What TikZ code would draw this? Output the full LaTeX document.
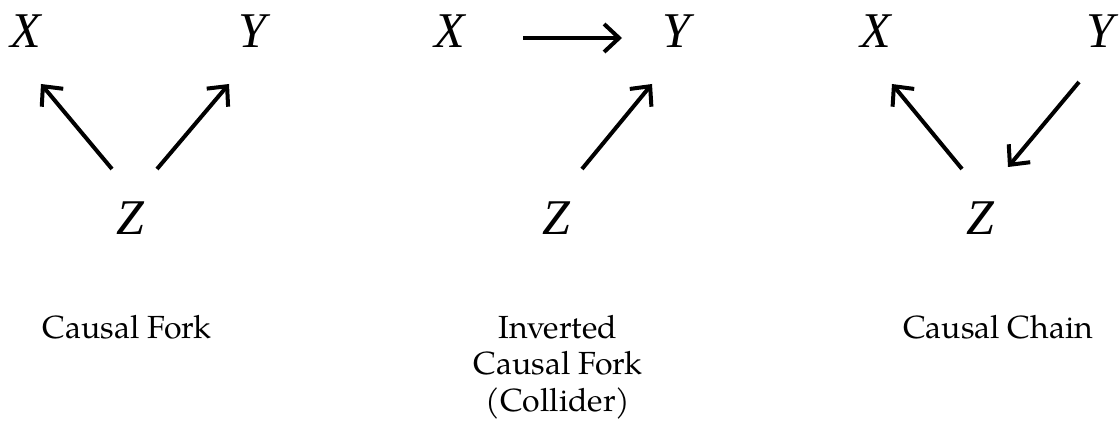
\documentclass[tikz,border=0pt]{standalone}
\usepackage{fontspec}
\setmainfont{TeX Gyre Pagella}
\newfontfamily\varfont{Liberation Serif}
\usetikzlibrary{arrows.meta}
\begin{document}
\begin{tikzpicture}[x=1pt,y=-1pt,
  var/.style={font=\fontsize{50}{60}\selectfont\varfont\itshape, anchor=base, inner sep=0pt},
  lbl/.style={font=\fontsize{32}{36.5}\selectfont, align=center, anchor=base, inner sep=0pt},
  arr/.style={line width=4pt, -{Straight Barb[length=15pt,width=28pt]}}]
\useasboundingbox (0,0) rectangle (1119,430);
% Causal fork
\node[var] (X1) at (26,48) {X};
\node[var] (Y1) at (252,48) {Y};
\node[var] (Z1) at (130,235) {Z};
\draw[arr] ([shift={(-18,-66)}]Z1.base) -- ([shift={(15,36)}]X1.base);
\draw[arr] ([shift={(27,-66)}]Z1.base) -- ([shift={(-23,36)}]Y1.base);
\node[lbl] (L1) at (127,338) {Causal Fork};
% Inverted causal fork
\node[var] (X2) at (450,48) {X};
\node[var] (Y2) at (676,48) {Y};
\node[var] (Z2) at (556,235) {Z};
\draw[arr] ([shift={(73,-10)}]X2.base) -- ([shift={(-54,-10)}]Y2.base);
\draw[arr] ([shift={(26,-66)}]Z2.base) -- ([shift={(-24,36)}]Y2.base);
\node[lbl] (L2) at (558,411) {Inverted\\Causal Fork\\(Collider)};
% Causal chain
\node[var] (X3) at (876,48) {X};
\node[var] (Y3) at (1100,48) {Y};
\node[var] (Z3) at (980,235) {Z};
\draw[arr] ([shift={(-18,-66)}]Z3.base) -- ([shift={(16,36)}]X3.base);
\draw[arr] ([shift={(-21,34)}]Y3.base) -- ([shift={(28,-68)}]Z3.base);
\node[lbl] (L3) at (998,338) {Causal Chain};
\end{tikzpicture}
\end{document}
